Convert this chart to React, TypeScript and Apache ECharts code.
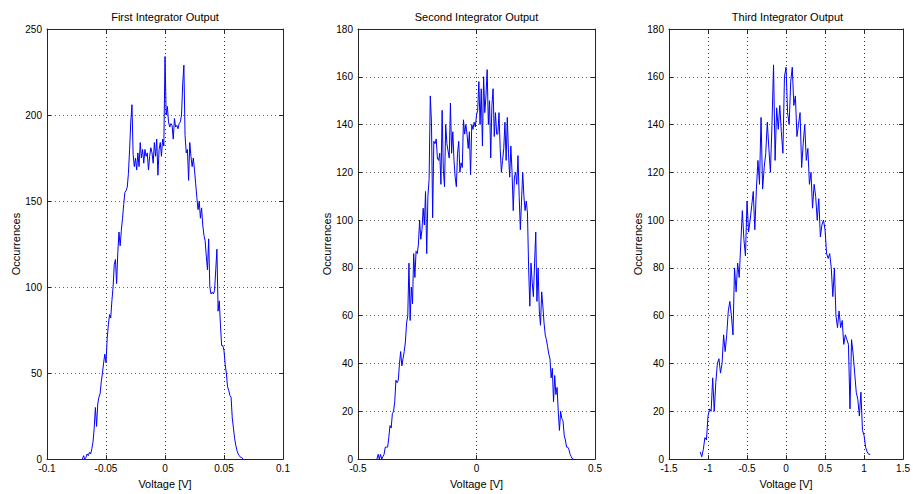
import React, { useEffect, useRef } from "react";
import * as echarts from "echarts";

const titles = ["First Integrator Output", "Second Integrator Output", "Third Integrator Output"];
const xAxisName = "Voltage [V]";
const yAxisName = "Occurrences";

// First integrator histogram: bins from -0.070 step 0.001
const firstStart = -0.07;
const firstStep = 0.001;
const firstCounts = [
  0, 2, 0, 1, 3, 2, 4, 3, 6, 10,
  18, 30, 19, 32, 36, 38, 45, 50, 56, 61,
  56, 70, 78, 84, 82, 92, 100, 113, 116, 102,
  120, 132, 124, 133, 140, 148, 155, 156, 158, 166,
  180, 196, 206, 177, 170, 175, 168, 178, 170, 184,
  175, 180, 172, 180, 176, 178, 168, 176, 181, 178,
  172, 184, 176, 186, 165, 180, 184, 176, 186, 182,
  234, 200, 205, 196, 193, 195, 194, 186, 198, 193,
  194, 192, 195, 196, 200, 218, 229, 188, 178, 180,
  162, 184, 176, 170, 175, 168, 160, 152, 145, 150,
  140, 146, 136, 130, 127, 118, 110, 128, 100, 96,
  97, 96, 98, 110, 122, 86, 92, 78, 66, 66,
  63, 55, 50, 42, 40, 37, 36, 24, 18, 12,
  8, 5, 3, 2, 1, 1, 0,
];

// Second integrator histogram: bins from -0.420 step 0.005
const secondStart = -0.42;
const secondStep = 0.005;
const secondCounts = [
  0, 2, 0, 2, 0, 1, 2, 5, 5, 5,
  9, 14, 13, 19, 20, 24, 33, 32, 33, 40,
  45, 39, 42, 45, 49, 57, 60, 82, 58, 72,
  65, 86, 76, 87, 86, 90, 100, 92, 96, 105,
  98, 112, 86, 110, 117, 152, 141, 101, 133, 132,
  134, 126, 125, 128, 115, 146, 121, 114, 140, 132,
  129, 126, 149, 128, 137, 125, 118, 114, 128, 133,
  120, 124, 122, 142, 136, 140, 136, 130, 137, 119,
  140, 138, 141, 139,
  144, 146, 158, 140, 155, 131, 160, 145, 152, 163,
  140, 150, 126, 148, 155, 135, 145, 136, 136, 145,
  130, 120, 125, 130, 141, 125, 143, 128, 118, 131,
  120, 104, 118, 120, 115, 127, 110, 96, 108, 120,
  110, 104, 108, 103, 80, 64, 82, 74, 68, 82,
  95, 66, 80, 62, 56, 70, 64, 57, 52, 50,
  47, 44, 42, 34, 38, 24, 35, 27, 30, 20,
  12, 20, 17, 16, 10, 8, 5, 5, 4, 2,
  1, 0, 0,
];

// Third integrator histogram: bins from -1.10 step 0.02
const thirdStart = -1.1;
const thirdStep = 0.02;
const thirdCounts = [
  3, 1, 4, 9, 8, 18, 21, 20, 34, 20,
  32, 40, 42, 36, 40, 52, 45, 52, 62, 66,
  60, 52, 80, 70, 82, 76, 90, 104, 92, 85,
  108, 95, 100, 106, 112, 96, 113, 125, 115, 143,
  113, 122, 128, 141, 130, 120, 140, 165, 125, 147,
  138, 148, 137, 128, 160, 164, 145, 140, 158, 164,
  148, 152, 135, 140, 145, 122, 132, 140, 125, 130,
  115, 120, 105, 115, 110, 100, 109, 93, 98, 100,
  96, 86, 84, 86, 80, 68, 80, 60, 55, 62,
  55, 58, 48, 52, 50, 48, 21, 50, 44, 36,
  28, 25, 18, 28, 12, 10, 5, 3, 2, 2,
];

const xTicks = [
  { min: -0.1, max: 0.1, interval: 0.05 },
  { min: -0.5, max: 0.5, interval: 0.5 },
  { min: -1.5, max: 1.5, interval: 0.5 },
];
const yTicks = [
  { min: 0, max: 250, interval: 50 },
  { min: 0, max: 180, interval: 20 },
  { min: 0, max: 180, interval: 20 },
];

const FONT = "'Liberation Sans', Arial, Helvetica, sans-serif";

function toPairs(start: number, step: number, counts: number[]) {
  return counts.map((c, i) => [+(start + i * step).toFixed(5), c]);
}

export default function App() {
  const ref = useRef<HTMLDivElement>(null);
  useEffect(() => {
    if (!ref.current) return;
    const chart = echarts.init(ref.current, null, { renderer: "svg" });
    const grids = [
      { left: 47, top: 29, width: 236, height: 434 },
      { left: 358, top: 29, width: 237, height: 434 },
      { left: 669, top: 29, width: 237, height: 434 },
    ];
    const centers = grids.map((g) => g.left + g.width / 2);
    const seriesData = [
      toPairs(firstStart, firstStep, firstCounts),
      toPairs(secondStart, secondStep, secondCounts),
      toPairs(thirdStart, thirdStep, thirdCounts),
    ];
    const axisLine = { show: true, lineStyle: { color: "#262626", width: 1 } };
    const xAxes: any[] = [];
    const yAxes: any[] = [];
    grids.forEach((_, gi) => {
      xAxes.push({
        type: "value",
        gridIndex: gi,
        position: "bottom",
        ...xTicks[gi],
        name: xAxisName,
        nameLocation: "middle",
        nameGap: 17,
        nameTextStyle: { fontFamily: FONT, fontSize: 11, color: "#000" },
        axisLine: { ...axisLine, onZero: false },
        axisTick: { show: true, inside: true, length: 4, lineStyle: { color: "#262626" } },
        axisLabel: { fontFamily: FONT, fontSize: 10, color: "#000", margin: 4, showMinLabel: true, showMaxLabel: true },
        splitLine: { show: true, lineStyle: { color: "#333", type: [1, 3], width: 1 } },
      });
      xAxes.push({
        type: "value",
        gridIndex: gi,
        position: "top",
        ...xTicks[gi],
        axisLine: { ...axisLine, onZero: false },
        axisTick: { show: true, inside: true, length: 4, lineStyle: { color: "#262626" } },
        axisLabel: { show: false },
        splitLine: { show: false },
      });
      yAxes.push({
        type: "value",
        gridIndex: gi,
        position: "left",
        ...yTicks[gi],
        name: yAxisName,
        nameLocation: "middle",
        nameGap: 25,
        nameTextStyle: { fontFamily: FONT, fontSize: 11, color: "#000" },
        axisLine: { ...axisLine, onZero: false },
        axisTick: { show: true, inside: true, length: 4, lineStyle: { color: "#262626" } },
        axisLabel: { fontFamily: FONT, fontSize: 10, color: "#000", margin: 5, showMinLabel: true, showMaxLabel: true },
        splitLine: { show: true, lineStyle: { color: "#666", type: [1, 3], width: 1 } },
      });
      yAxes.push({
        type: "value",
        gridIndex: gi,
        position: "right",
        ...yTicks[gi],
        axisLine: { ...axisLine, onZero: false },
        axisTick: { show: true, inside: true, length: 4, lineStyle: { color: "#262626" } },
        axisLabel: { show: false },
        splitLine: { show: false },
      });
    });
    chart.setOption({
      animation: false,
      backgroundColor: "#fff",
      title: titles.map((t, i) => ({
        text: t,
        left: centers[i],
        top: 11,
        textAlign: "center",
        padding: 0,
        textStyle: { fontFamily: FONT, fontSize: 11, fontWeight: "normal", color: "#000" },
      })),
      grid: grids,
      xAxis: xAxes,
      yAxis: yAxes,
      series: seriesData.map((d, i) => ({
        type: "line",
        xAxisIndex: i * 2,
        yAxisIndex: i * 2,
        data: d,
        showSymbol: false,
        symbol: "none",
        lineStyle: { color: "#0000ff", width: 1 },
        z: 3,
      })),
    });
    return () => chart.dispose();
  }, []);
  return (
    <div
      ref={ref}
      style={{ position: "fixed", left: 0, top: 0, width: 913, height: 494, background: "#fff" }}
    />
  );
}
